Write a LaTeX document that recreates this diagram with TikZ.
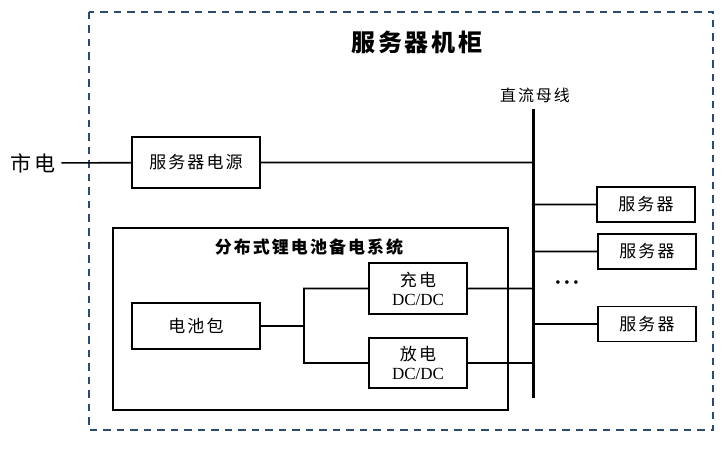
\documentclass[tikz,border=0pt]{standalone}
\usepackage{fontspec}
\setmainfont{Noto Sans CJK SC}[LetterSpace=12]
\newfontfamily\dcfont{Liberation Serif}
\usetikzlibrary{positioning}
\definecolor{cabinetblue}{HTML}{2B4C6F}

\tikzset{
  box/.style={draw, line width=1.6pt, inner sep=0pt, font=\fontsize{17}{20}\selectfont},
  wire/.style={line width=1.6pt},
  busbar/.style={line width=3pt},
}

\begin{document}
\begin{tikzpicture}[x=1pt,y=-1pt]
        \useasboundingbox (0,0) rectangle (727,454);
        % cabinet outline
        \draw[cabinetblue, line width=2pt, dash pattern=on 7.5pt off 6pt] (89,12) rectangle (713,430);
        \node[font=\fontsize{24}{28}\selectfont\bfseries] (title) at (417,42) {服务器机柜};

        \node[font=\fontsize{21}{24}\selectfont, inner xsep=6pt] (grid) at (33,163) {市电};
        \node[box, minimum width=128pt, minimum height=51pt] (psu) at (196,162.5) {服务器电源};

        % dc bus
        \coordinate (busT) at (533,109);
        \coordinate (busB) at (533,398);
        \node[font=\fontsize{16}{19}\selectfont] (busL) at (535,95) {直流母线};

        \node[box, minimum width=98pt, minimum height=35pt] (srvA) at (646,204.5) {服务器};
        \node[box, minimum width=98pt, minimum height=35pt] (srvB) at (647,251.5) {服务器};
        \node[box, minimum width=98pt, minimum height=35pt] (srvC) at (647,324) {服务器};
        \node[font=\dcfont\fontsize{15}{18}\selectfont, inner sep=0pt] (dots) at (567,284) {• • •};

        % battery backup
        \node[draw, line width=1.6pt, minimum width=395pt, minimum height=182pt] (bsys) at (310.5,319) {};
        \node[font=\fontsize{17}{20}\selectfont\bfseries] (bsysT) at (309,247) {分布式锂电池备电系统};
        \node[box, minimum width=128pt, minimum height=46pt] (pack) at (196,326) {电池包};
        \node[box, minimum width=98pt, minimum height=51pt, align=center] (chg) at (418,288.5)
            {充电\\[-1pt]{\dcfont DC/DC}};
        \node[box, minimum width=98pt, minimum height=50pt, align=center] (dis) at (418,363)
            {放电\\[-1pt]{\dcfont DC/DC}};
        \coordinate (fork) at (304,326);

        \draw[busbar] (busT) -- (busB);
        \draw[wire]
            (grid) -- (psu)
            (psu.east) -- (psu.east -| busT)
            (srvA.west -| busT) -- (srvA.west)
            (srvB.west -| busT) -- (srvB.west)
            (srvC.west -| busT) -- (srvC.west)
            (pack.east) -- (fork)
            (fork) |- (chg.west)
            (fork) |- (dis.west)
            (chg.east) -- (chg.east -| busT)
            (dis.east) -- (dis.east -| busT)
        ;
    \end{tikzpicture}
\end{document}
